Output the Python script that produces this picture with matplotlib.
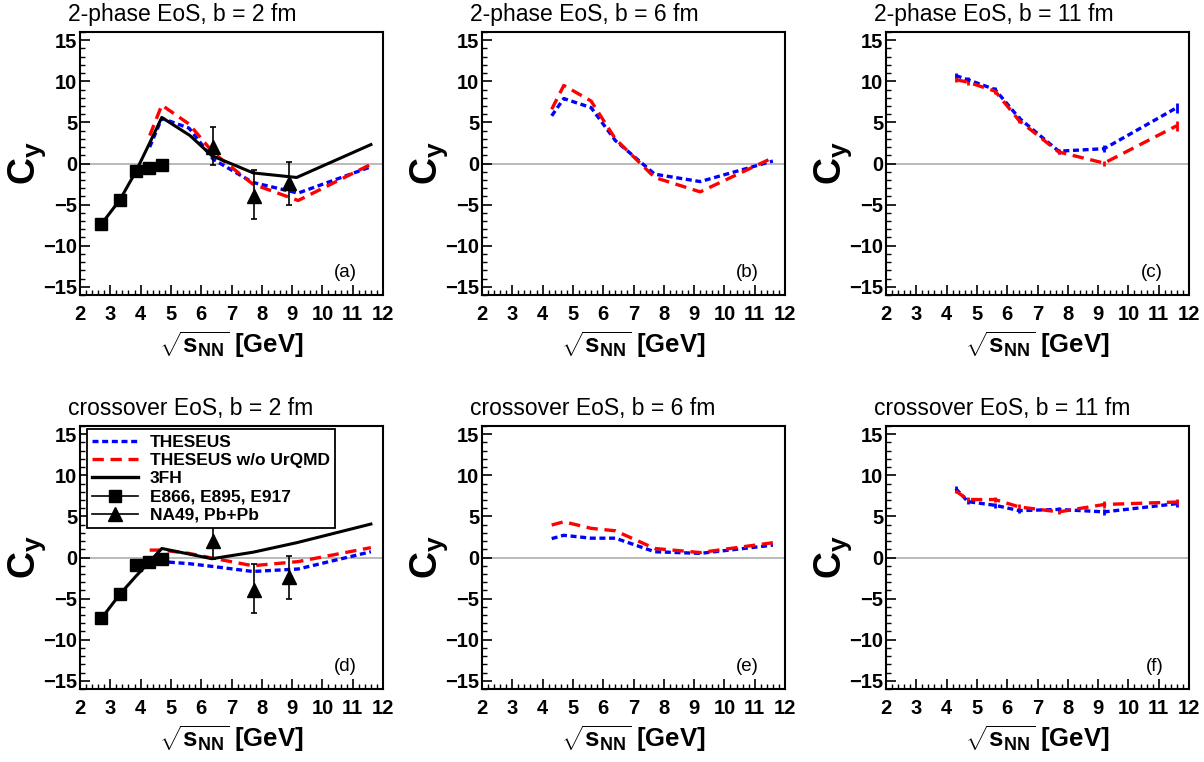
import matplotlib
matplotlib.use('Agg')
import matplotlib.pyplot as plt
from matplotlib.ticker import MultipleLocator
from matplotlib.lines import Line2D

plt.rcParams['font.family'] = ['Liberation Sans', 'DejaVu Sans']
plt.rcParams['mathtext.fontset'] = 'custom'
plt.rcParams['mathtext.rm'] = 'Liberation Sans'
plt.rcParams['mathtext.bf'] = 'Liberation Sans:bold'
plt.rcParams['mathtext.it'] = 'Liberation Sans:italic'
plt.rcParams['axes.unicode_minus'] = True

# ---------------- data ----------------
x_theseus = [4.3, 4.7, 5.6, 6.4, 7.7, 9.2, 11.6]

# 2-phase EoS
blue_a = [2.0, 5.5, 4.3, 0.5, -2.3, -3.6, -0.4]
red_a = [3.4, 7.1, 4.8, 1.3, -2.5, -4.5, -0.1]
blue_b = [5.8, 7.9, 6.8, 2.8, -1.3, -2.2, 0.3]
red_b = [6.6, 9.5, 7.6, 3.0, -1.7, -3.45, 0.7]
blue_c = [10.7, 10.2, 9.0, 5.5, 1.5, 1.8, 6.8]
red_c = [10.2, 9.9, 8.8, 5.2, 1.4, 0.05, 4.6]
# crossover EoS
blue_d = [-0.7, -0.5, -0.75, -1.1, -1.7, -1.4, 0.7]
red_d = [0.9, 0.9, 0.5, -0.1, -1.0, -0.5, 1.2]
blue_e = [2.3, 2.7, 2.35, 2.35, 0.7, 0.5, 1.5]
red_e = [3.95, 4.35, 3.55, 3.25, 1.1, 0.6, 1.8]
blue_f = [8.4, 6.8, 6.35, 5.7, 5.85, 5.55, 6.55]
red_f = [8.1, 7.05, 7.05, 6.15, 5.55, 6.45, 6.75]

err_blue_c = [0.3, 0.3, 0.3, 0.3, 0.3, 0.4, 0.6]
err_red_c = [0.3, 0.3, 0.3, 0.3, 0.3, 0.3, 0.6]
err_blue_f = [0.3, 0.3, 0.3, 0.3, 0.3, 0.4, 0.4]
err_red_f = [0.3, 0.3, 0.3, 0.3, 0.3, 0.4, 0.4]

# 3FH
x_3fh = [2.7, 3.32, 3.84, 4.3, 4.7, 5.63, 6.35, 7.72, 9.15, 11.6]
y_3fh_2phase = [-7.4, -4.4, -1.0, 2.5, 5.6, 3.4, 0.95, -1.15, -1.7, 2.3]
x_3fh_cross = [2.7, 3.32, 3.84, 4.3, 4.7, 6.35, 7.72, 9.15, 11.6]
y_3fh_cross = [-7.45, -4.45, -2.3, -0.5, 1.1, -0.15, 0.65, 1.8, 4.07]

# experimental data
x_ags = [2.7, 3.32, 3.84, 4.28, 4.72]
y_ags = [-7.4, -4.4, -0.95, -0.5, -0.15]
x_na49 = [6.4, 7.73, 8.89]
y_na49 = [1.95, -3.9, -2.4]
err_na49_up = [2.5, 3.1, 2.6]
err_na49_lo = [2.15, 2.85, 2.6]

titles = ["2-phase EoS, b = 2 fm", "2-phase EoS, b = 6 fm", "2-phase EoS, b = 11 fm",
          "crossover EoS, b = 2 fm", "crossover EoS, b = 6 fm", "crossover EoS, b = 11 fm"]
panel_labels = ["(a)", "(b)", "(c)", "(d)", "(e)", "(f)"]
xticks = [2, 3, 4, 5, 6, 7, 8, 9, 10, 11, 12]
yticks = [-15, -10, -5, 0, 5, 10, 15]

blues = [blue_a, blue_b, blue_c, blue_d, blue_e, blue_f]
reds = [red_a, red_b, red_c, red_d, red_e, red_f]
err_blues = [None, None, err_blue_c, None, None, err_blue_f]
err_reds = [None, None, err_red_c, None, None, err_red_f]

# ---------------- figure ----------------
W, H = 1204, 762
fig = plt.figure(figsize=(W / 100, H / 100), dpi=100)

col_left = [80, 482, 886]
row_top = [32, 426]
ax_w, ax_h = 303, 263

BLUE = '#0000ff'
RED = '#ff0000'
blue_dash = (1.8, 1.1)
red_dash = (3.4, 2.0)

for i in range(6):
    r, c = divmod(i, 3)
    l = col_left[c]
    t = row_top[r]
    ax = fig.add_axes([l / W, 1 - (t + ax_h) / H, ax_w / W, ax_h / H])
    ax.set_xlim(2, 12)
    ax.set_ylim(-16, 16)
    ax.axhline(0, color='#b4b4b4', lw=1.3, zorder=1)

    eb = err_blues[i]
    er = err_reds[i]
    if eb is not None:
        ax.errorbar(x_theseus, blues[i], yerr=eb, fmt='none', ecolor=BLUE, elinewidth=2, zorder=3)
    if er is not None:
        ax.errorbar(x_theseus, reds[i], yerr=er, fmt='none', ecolor=RED, elinewidth=2, zorder=3)
    ax.plot(x_theseus, blues[i], color=BLUE, lw=2.4, dashes=blue_dash, zorder=3)
    ax.plot(x_theseus, reds[i], color=RED, lw=2.4, dashes=red_dash, zorder=4)

    if c == 0:
        if r == 0:
            ax.plot(x_3fh, y_3fh_2phase, color='black', lw=2.2, zorder=5)
        else:
            ax.plot(x_3fh_cross, y_3fh_cross, color='black', lw=2.2, zorder=5)
        ax.plot(x_ags, y_ags, 's', color='black', ms=8, zorder=6)
        ax.errorbar(x_na49, y_na49, yerr=[err_na49_lo, err_na49_up], fmt='^', color='black',
                    ms=10, elinewidth=1.2, capsize=2.5, capthick=1.2, zorder=6)

    ax.set_xticks(xticks)
    ax.set_yticks(yticks)
    ax.xaxis.set_minor_locator(MultipleLocator(0.2))
    ax.yaxis.set_minor_locator(MultipleLocator(1))
    ax.tick_params(axis='both', which='both', direction='in', top=False, right=False)
    ax.tick_params(axis='x', which='major', length=7, width=1.2, pad=7)
    ax.tick_params(axis='x', which='minor', length=3.5, width=1.0)
    ax.tick_params(axis='y', which='major', length=7, width=1.2, pad=2)
    ax.tick_params(axis='y', which='minor', length=3.5, width=1.0)
    for lab in ax.get_xticklabels() + ax.get_yticklabels():
        lab.set_fontsize(14.5)
        lab.set_fontweight('bold')
    for s in ax.spines.values():
        s.set_linewidth(1.5)

    ax.set_xlabel(r'$\sqrt{\mathbf{s}_{\mathbf{NN}}}$ $\mathbf{[GeV]}$', fontsize=18.5, labelpad=4)
    ax.set_ylabel(r'$\mathbf{C_y}$', fontsize=27)
    ax.yaxis.set_label_coords(-0.105, 0.5)

    ax.text(0.915, 0.07, panel_labels[i], transform=ax.transAxes, ha='right', va='baseline',
            fontsize=13.5)
    fig.text((l - 12) / W, 1 - (t - 11) / H, titles[i], ha='left', va='baseline', fontsize=16.5)

    if i == 3:
        handles = [
            Line2D([], [], color=BLUE, lw=2.4, dashes=blue_dash),
            Line2D([], [], color=RED, lw=2.4, dashes=red_dash),
            Line2D([], [], color='black', lw=2.4),
            Line2D([], [], color='black', lw=1.2, marker='s', ms=9),
            Line2D([], [], color='black', lw=1.2, marker='^', ms=10),
        ]
        labels = ["THESEUS", "THESEUS w/o UrQMD", "3FH", "E866, E895, E917", "NA49, Pb+Pb"]
        leg = ax.legend(handles, labels, loc='upper left', bbox_to_anchor=(0.024, 0.987),
                        prop={'weight': 'bold', 'size': 12.5}, frameon=True, fancybox=False,
                        edgecolor='black', framealpha=1, handlelength=2.6, labelspacing=0.18,
                        borderpad=0.3, handletextpad=0.7, borderaxespad=0)
        leg.get_frame().set_linewidth(1.3)
        leg.set_zorder(10)

fig.savefig('out.png', dpi=100)
